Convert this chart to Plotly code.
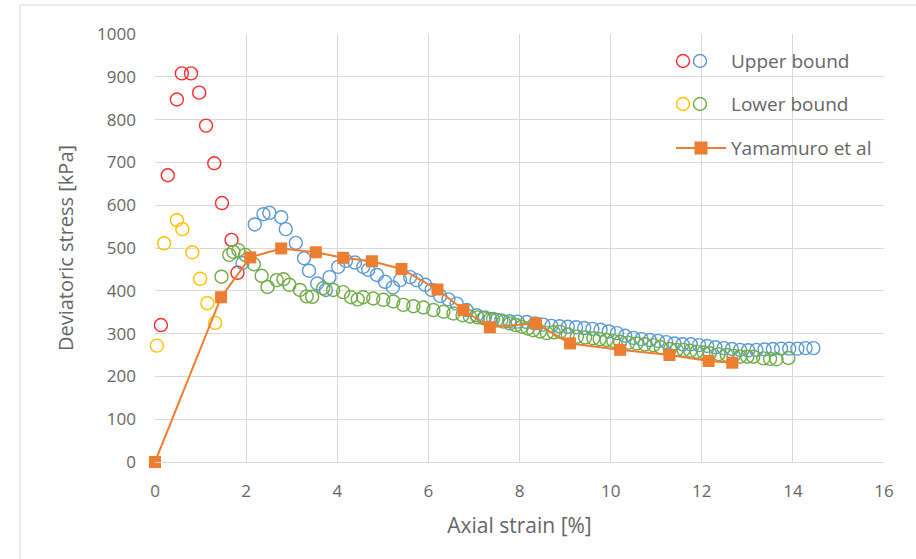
import plotly.graph_objects as go

# ---- data ----
upper_early_x = [0.13, 0.28, 0.48, 0.59, 0.79, 0.97, 1.12, 1.30, 1.47, 1.68, 1.81]
upper_early_y = [320, 670, 847, 908, 908, 863, 786, 698, 605, 519, 442]

lower_early_x = [0.04, 0.20, 0.48, 0.60, 0.82, 0.99, 1.15, 1.32]
lower_early_y = [272, 511, 565, 544, 490, 428, 371, 325]

upper_late_x = [1.92, 2.19, 2.38, 2.51, 2.77, 2.87, 3.09, 3.27, 3.38, 3.56, 3.75, 3.83,
                4.02, 4.19, 4.39, 4.57, 4.68, 4.87, 5.05, 5.22, 5.38, 5.60, 5.74, 5.93,
                6.07, 6.26, 6.44, 6.62, 6.84, 7.06, 7.24, 7.42, 7.60, 7.78, 7.96, 8.16,
                8.34, 8.52, 8.70, 8.88, 9.06, 9.24, 9.42, 9.60, 9.78, 9.96, 10.14, 10.32,
                10.50, 10.68, 10.86, 11.04, 11.22, 11.40, 11.58, 11.76, 11.94, 12.12,
                12.30, 12.48, 12.66, 12.84, 13.02, 13.20, 13.38, 13.56, 13.74, 13.92,
                14.10, 14.28, 14.45]
upper_late_y = [465, 555, 579, 582, 572, 544, 512, 476, 447, 417, 402, 432,
                456, 470, 466, 456, 449, 437, 421, 408, 425, 432, 425, 414,
                402, 388, 380, 370, 355, 343, 338, 334, 331, 329, 328, 327,
                324, 321, 318, 317, 316, 315, 313, 311, 309, 305, 301, 295,
                290, 287, 285, 283, 280, 277, 275, 275, 273, 271,
                268, 266, 264, 262, 261, 262, 263, 264, 265, 265,
                265, 266, 266]

lower_late_x = [1.46, 1.63, 1.72, 1.83, 1.98, 2.17, 2.34, 2.47, 2.67, 2.82, 2.95, 3.18,
                3.33, 3.45, 3.69, 3.91, 4.13, 4.30, 4.45, 4.57, 4.79, 5.01, 5.23, 5.45,
                5.67, 5.89, 6.11, 6.33, 6.55, 6.75, 6.91, 7.08, 7.21, 7.36, 7.50, 7.65,
                7.79, 7.92, 8.05, 8.18, 8.30, 8.45, 8.60, 8.75, 8.89, 9.06, 9.26, 9.44,
                9.62, 9.76, 9.91, 10.06, 10.21, 10.39, 10.57, 10.75, 10.94, 11.10, 11.30,
                11.45, 11.60, 11.75, 11.89, 12.04, 12.18, 12.37, 12.55, 12.70, 12.84,
                13.00, 13.13, 13.35, 13.50, 13.64, 13.90]
lower_late_y = [433, 484, 491, 495, 484, 462, 435, 409, 425, 427, 414, 402,
                387, 386, 406, 402, 397, 385, 380, 385, 382, 379, 375, 367,
                364, 361, 355, 351, 347, 343, 340, 338, 336, 334, 332, 328,
                324, 320, 316, 312, 308, 305, 301, 303, 304, 298, 293, 291,
                289, 287, 285, 283, 281, 279, 277, 275, 273, 268, 264,
                262, 262, 260, 258, 256, 254, 252, 250, 248, 246,
                246, 246, 242, 241, 240, 243]

yama_x = [0, 1.45, 2.09, 2.77, 3.53, 4.13, 4.76, 5.41, 6.20, 6.77, 7.35, 8.36, 9.11,
          10.21, 11.29, 12.15, 12.67]
yama_y = [0, 385, 478, 499, 490, 477, 469, 451, 403, 355, 315, 324, 277, 262, 250, 236, 232]

legend_labels = ["Upper bound", "Lower bound", "Yamamuro et al"]

RED, BLUE, YEL, GRN, ORA = "#FF2B2B", "#5B9BD5", "#FFC000", "#70AD47", "#ED7D31"
FONT = "Open Sans"
TXT = "#666666"

W, H = 916, 559
L, R, T, B = 155, 884, 34, 462  # plot area in pixels


def px(p):
    return (p - L) / (R - L)


def py(p):
    return (B - p) / (B - T)


fig = go.Figure()


def circles(x, y, color):
    fig.add_trace(go.Scatter(
        x=x, y=y, mode="markers", showlegend=False, cliponaxis=False,
        marker=dict(symbol="circle-open", size=13, color=color, line=dict(width=1.4, color=color)),
    ))


circles(upper_early_x, upper_early_y, RED)
circles(lower_early_x, lower_early_y, YEL)
circles(upper_late_x, upper_late_y, BLUE)
circles(lower_late_x, lower_late_y, GRN)

fig.add_trace(go.Scatter(
    x=yama_x, y=yama_y, mode="lines+markers", showlegend=False, cliponaxis=False,
    line=dict(color=ORA, width=2),
    marker=dict(symbol="square", size=12, color=ORA),
))

shapes = []
# outer chart border (light gray)
shapes.append(dict(type="line", xref="paper", yref="paper", x0=px(20), x1=px(W + 5), y0=py(5), y1=py(5),
                   line=dict(color="#D9D9D9", width=1)))
shapes.append(dict(type="line", xref="paper", yref="paper", x0=px(20), x1=px(20), y0=py(5), y1=py(H + 5),
                   line=dict(color="#D9D9D9", width=1)))


# custom legend
def leg_circle(cx, cy, color):
    shapes.append(dict(type="circle", xref="paper", yref="paper", xsizemode="pixel", ysizemode="pixel",
                       xanchor=px(cx), yanchor=py(cy), x0=-6.5, x1=6.5, y0=-6.5, y1=6.5,
                       line=dict(color=color, width=1.4), fillcolor="rgba(0,0,0,0)"))


leg_circle(683, 61, RED)
leg_circle(700, 61, BLUE)
leg_circle(683, 104, YEL)
leg_circle(700, 104, GRN)
shapes.append(dict(type="line", xref="paper", yref="paper", x0=px(676), x1=px(726), y0=py(148), y1=py(148),
                   line=dict(color=ORA, width=2)))
shapes.append(dict(type="rect", xref="paper", yref="paper", xsizemode="pixel", ysizemode="pixel",
                   xanchor=px(701), yanchor=py(148), x0=-6.5, x1=6.5, y0=-6.5, y1=6.5,
                   line=dict(width=0), fillcolor=ORA))

annotations = []
for lab, yy in zip(legend_labels, [61, 104, 148]):
    annotations.append(dict(text=lab, xref="paper", yref="paper", x=px(729), y=py(yy),
                            xanchor="left", yanchor="middle", showarrow=False,
                            font=dict(family=FONT, size=19, color=TXT)))

fig.update_layout(
    width=W, height=H,
    margin=dict(l=L, r=W - R, t=T, b=H - B),
    paper_bgcolor="white", plot_bgcolor="white",
    font=dict(family=FONT, color=TXT, size=16),
    shapes=shapes, annotations=annotations,
    xaxis=dict(range=[0, 16], dtick=2, tick0=0, showgrid=True, gridcolor="#D9D9D9", gridwidth=1,
               zeroline=False, showline=True, linecolor="#D9D9D9", mirror=False,
               ticks="", ticklabelstandoff=14,
               tickfont=dict(family=FONT, size=17, color=TXT),
               title=dict(text="Axial strain [%]", font=dict(family=FONT, size=21, color=TXT), standoff=16)),
    yaxis=dict(range=[0, 1000], dtick=100, tick0=0, showgrid=True, gridcolor="#D9D9D9", gridwidth=1,
               zeroline=False, showline=False, ticks="", ticklabelstandoff=18,
               tickfont=dict(family=FONT, size=17, color=TXT),
               title=dict(text="Deviatoric stress [kPa]", font=dict(family=FONT, size=20, color=TXT), standoff=18)),
)

fig.write_html("out.html")
